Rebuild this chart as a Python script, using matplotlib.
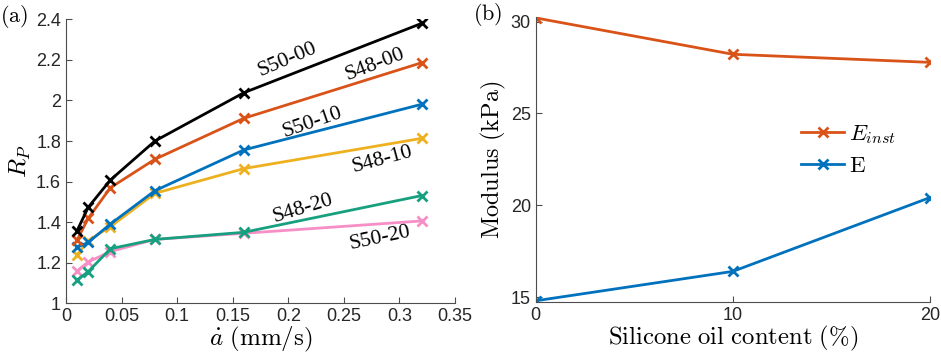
import matplotlib
matplotlib.use("Agg")
import matplotlib.pyplot as plt

plt.rcParams['mathtext.fontset'] = 'cm'
plt.rcParams['font.family'] = ['Liberation Sans', 'DejaVu Sans']

# panel (a) data
rate = [0.01, 0.02, 0.04, 0.08, 0.16, 0.32]
rp_s50_00 = [1.358, 1.473, 1.608, 1.800, 2.038, 2.380]
rp_s48_00 = [1.312, 1.419, 1.570, 1.710, 1.912, 2.186]
rp_s50_10 = [1.276, 1.300, 1.391, 1.555, 1.756, 1.981]
rp_s48_10 = [1.238, 1.309, 1.378, 1.542, 1.664, 1.813]
rp_s48_20 = [1.115, 1.156, 1.269, 1.315, 1.350, 1.531]
rp_s50_20 = [1.159, 1.204, 1.255, 1.315, 1.345, 1.406]
series_names = ['S50-00', 'S48-00', 'S50-10', 'S48-10', 'S48-20', 'S50-20']

# panel (b) data
oil = [0, 10, 20]
e_inst = [30.2, 28.22, 27.78]
e_mod = [14.8, 16.4, 20.42]

blue = '#0072BD'
orange = '#D95319'
yellow = '#EDB120'
green = '#17A07F'
pink = '#F78FC6'
black = 'k'
gray = '#4d4d4d'

fig = plt.figure(figsize=(9.41, 3.57), dpi=100)
ax1 = fig.add_axes([0.0701, 0.1504, 0.4134, 0.7955])
ax2 = fig.add_axes([0.5693, 0.1549, 0.4190, 0.7975])

# draw order so green covers pink like the reference
lines_a = [(rp_s50_20, pink), (rp_s48_10, yellow), (rp_s50_10, blue),
           (rp_s48_20, green), (rp_s48_00, orange), (rp_s50_00, black)]
for vals, c in lines_a:
    ax1.plot(rate, vals, color=c, marker='x', markersize=7, markeredgewidth=2, linewidth=2)

# rotated series labels
lab_pos = [(0.1998, 2.199, 23), (0.278, 2.175, 21), (0.222, 1.893, 19),
           (0.285, 1.706, 15), (0.213, 1.469, 17), (0.283, 1.322, 12)]
for name, (x, y, r) in zip(series_names, lab_pos):
    ax1.text(x, y, name, rotation=r, ha='center', va='center', fontsize=15.5,
             family=['Liberation Serif'], rotation_mode='anchor')

ax1.set_xlim(0, 0.35)
ax1.set_ylim(1, 2.4)
ax1.set_xticks([0, 0.05, 0.1, 0.15, 0.2, 0.25, 0.3, 0.35])
ax1.set_xticklabels(['0', '0.05', '0.1', '0.15', '0.2', '0.25', '0.3', '0.35'])
ax1.set_yticks([1, 1.2, 1.4, 1.6, 1.8, 2, 2.2, 2.4])
ax1.set_yticklabels(['1', '1.2', '1.4', '1.6', '1.8', '2', '2.2', '2.4'])
ax1.set_xlabel(r'$\dot{a}\ (\mathrm{mm/s})$', fontsize=18, labelpad=0)
ax1.set_ylabel(r'$R_P$', fontsize=18, labelpad=2)
ax1.text(-0.17, 1.01, r'$\mathrm{(a)}$', transform=ax1.transAxes, fontsize=16,
         ha='left', va='center')

ax2.plot(oil, e_inst, color=orange, marker='x', markersize=7, markeredgewidth=2,
         linewidth=2, label=r'$E_{inst}$')
ax2.plot(oil, e_mod, color=blue, marker='x', markersize=7, markeredgewidth=2,
         linewidth=2, label=r'$\mathrm{E}$')
ax2.set_xlim(0, 20)
ax2.set_ylim(14.75, 30.25)
ax2.set_xticks([0, 10, 20])
ax2.set_yticks([15, 20, 25, 30])
ax2.set_xlabel(r'$\mathrm{Silicone\ oil\ content\ (\%)}$', fontsize=17.8, labelpad=0)
ax2.set_ylabel(r'$\mathrm{Modulus\ (kPa)}$', fontsize=17.5, labelpad=2)
ax2.text(-0.16, 1.01, r'$\mathrm{(b)}$', transform=ax2.transAxes, fontsize=16,
         ha='left', va='center')
ax2.legend(loc='center left', bbox_to_anchor=(0.62, 0.535), frameon=False,
           fontsize=16.5, handlelength=1.9, handletextpad=0.2, labelspacing=0.35)

for ax in (ax1, ax2):
    ax.spines['top'].set_visible(False)
    ax.spines['right'].set_visible(False)
    ax.spines['left'].set_color(gray)
    ax.spines['bottom'].set_color(gray)
    ax.tick_params(direction='in', length=4, width=0.8, colors='#262626',
                   labelsize=13, color=gray)

fig.savefig('out.png', dpi=100)
